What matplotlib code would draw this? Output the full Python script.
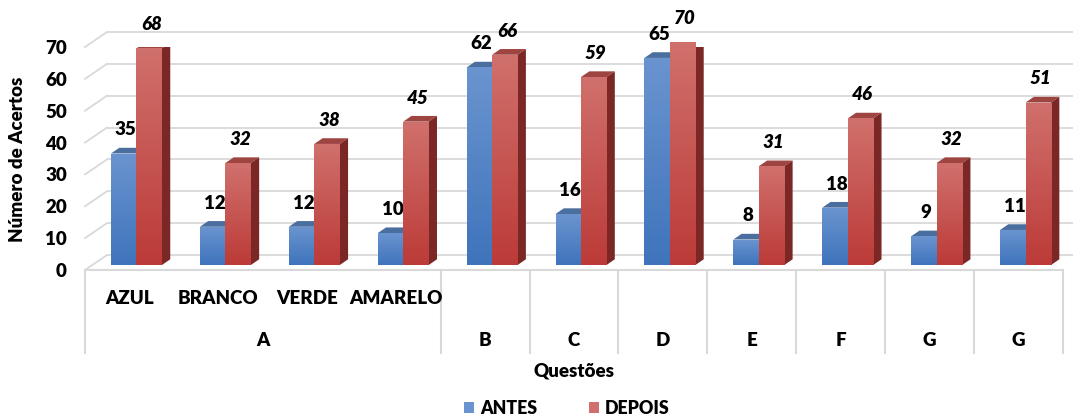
import numpy as np
import matplotlib
matplotlib.use("Agg")
import matplotlib.pyplot as plt
from matplotlib.patches import Polygon, Patch
from matplotlib.colors import LinearSegmentedColormap

# ---- data ----
subcategories = ["AZUL", "BRANCO", "VERDE", "AMARELO", "", "", "", "", "", "", ""]
group_labels = ["A", "B", "C", "D", "E", "F", "G", "G"]
group_spans = [(0, 3), (4, 4), (5, 5), (6, 6), (7, 7), (8, 8), (9, 9), (10, 10)]
antes = [35, 12, 12, 10, 62, 16, 65, 8, 18, 9, 11]
depois = [68, 32, 38, 45, 66, 59, 70, 31, 46, 32, 51]
series_names = ["ANTES", "DEPOIS"]
yticks = [0, 10, 20, 30, 40, 50, 60, 70]

FONT = ["Lato", "DejaVu Sans"]
plt.rcParams["font.family"] = FONT
WT = "heavy"

W, H = 1073, 416
fig = plt.figure(figsize=(W / 100, H / 100), dpi=100)
fig.patch.set_facecolor("white")

# front plane of the 3-D box
ax = fig.add_axes([85 / W, (H - 270) / H, 978 / W, 223 / H])
n = len(antes)
ax.set_xlim(-0.5, n - 0.5)
ax.set_ylim(0, 70)
ax.set_autoscale_on(False)
for s in ax.spines.values():
    s.set_visible(False)

PX = 978 / n      # pixels per category
PY = 223 / 70     # pixels per unit


def off(px, py):
    return px / PX, py / PY


grid_c = "#D9D9D9"
bx, by = off(22, 15)      # back wall depth
px0, py0 = off(7, 5)      # plane of the bar fronts
ddx, ddy = off(8.3, 5.7)  # depth of each bar

# back wall + left wall grid
for v in yticks:
    ax.plot([-0.5 + bx, n - 0.5 + bx + 1], [v + by, v + by], color=grid_c,
            lw=1.3, clip_on=False, zorder=1, solid_capstyle="butt")
    ax.plot([-0.5, -0.5 + bx], [v, v + by], color=grid_c, lw=1.3,
            clip_on=False, zorder=1)
# floor front edge
ax.plot([-0.5, n - 0.5], [0, 0], color=grid_c, lw=1.5, clip_on=False, zorder=1)

# category separators and labels
sep_bottom = (270 - 353) / 223
xt = ax.get_xaxis_transform()
seps = [-0.5] + [b + 0.5 for (_, b) in group_spans]
for s in seps:
    ax.plot([s, s], [0, sep_bottom], transform=xt, color=grid_c, lw=1.5,
            clip_on=False, zorder=1)
for i, lab in enumerate(subcategories):
    if lab:
        ax.text(i, (270 - 298) / 223, lab, transform=xt, ha="center",
                va="center", fontsize=13.5, fontweight=WT)
for lab, (a, b) in zip(group_labels, group_spans):
    ax.text((a + b) / 2, (270 - 340) / 223, lab, transform=xt, ha="center",
            va="center", fontsize=13.5, fontweight=WT)

# y ticks
ax.set_xticks([])
ax.set_yticks(yticks)
ax.tick_params(axis="y", length=0, pad=13, labelsize=13.5)
for t in ax.get_yticklabels():
    t.set_fontweight(WT)

# bars
bw = 25.5 / PX
x = np.arange(n)
xb = x + px0 - bw / 2
xr = x + px0 + bw / 2

styles = {
    "ANTES": dict(front=["#3F74BC", "#6A94CF"], top="#4A6E9E", side="#2F5587"),
    "DEPOIS": dict(front=["#BC3B38", "#D0706C"], top="#9E4441", side="#7A2725"),
}

grad = np.linspace(0, 1, 64).reshape(-1, 1)


def draw_bars(xc, vals, name, z):
    st = styles[name]
    cmap = LinearSegmentedColormap.from_list(name, st["front"])
    bars = ax.bar(xc, vals, width=bw, bottom=py0, color=st["front"][0],
                  zorder=z, linewidth=0)
    for rect, v in zip(bars, vals):
        x0 = rect.get_x()
        x1 = x0 + rect.get_width()
        yb = rect.get_y()
        yt = yb + rect.get_height()
        im = ax.imshow(grad, extent=(x0, x1, yb, yt), origin="lower",
                       cmap=cmap, aspect="auto", zorder=z + 0.1,
                       interpolation="bilinear")
        im.set_clip_path(rect)
        ax.add_patch(Polygon([(x0, yt), (x1, yt), (x1 + ddx, yt + ddy),
                              (x0 + ddx, yt + ddy)], closed=True,
                             facecolor=st["top"], edgecolor="none",
                             zorder=z))
        ax.add_patch(Polygon([(x1, yb), (x1 + ddx, yb + ddy),
                              (x1 + ddx, yt + ddy), (x1, yt)], closed=True,
                             facecolor=st["side"], edgecolor="none",
                             zorder=z))
    return bars


draw_bars(xb, antes, "ANTES", 3)
draw_bars(xr, depois, "DEPOIS", 4)

# value labels
for xc, v in zip(xb, antes):
    ax.annotate(str(v), (xc, py0 + v), xytext=(1.5, 17),
                textcoords="offset points", ha="center", va="center",
                fontsize=13.5, fontweight=WT, annotation_clip=False)
for xc, v in zip(xr, depois):
    ax.annotate(str(v), (xc, py0 + v), xytext=(1.5, 17),
                textcoords="offset points", ha="center", va="center",
                fontsize=13.5, fontweight=WT, fontstyle="italic",
                annotation_clip=False)

# axis titles
fig.text(18 / W, 1 - 159 / H, "Número de Acertos", rotation=90,
         ha="center", va="center", fontsize=13.5, fontweight=WT)
fig.text(574 / W, 1 - 371 / H, "Questões", ha="center", va="center",
         fontsize=13.5, fontweight=WT)

# legend
handles = [Patch(facecolor=styles[s]["front"][1], edgecolor="none")
           for s in series_names]
leg = fig.legend(handles, series_names, loc="center", ncol=2,
                 bbox_to_anchor=(567 / W, 1 - 408 / H), frameon=False,
                 handlelength=0.55, handleheight=0.55, handletextpad=0.35,
                 columnspacing=2.9, prop=dict(size=12.8, weight=WT))

fig.savefig("out.png", dpi=100)
